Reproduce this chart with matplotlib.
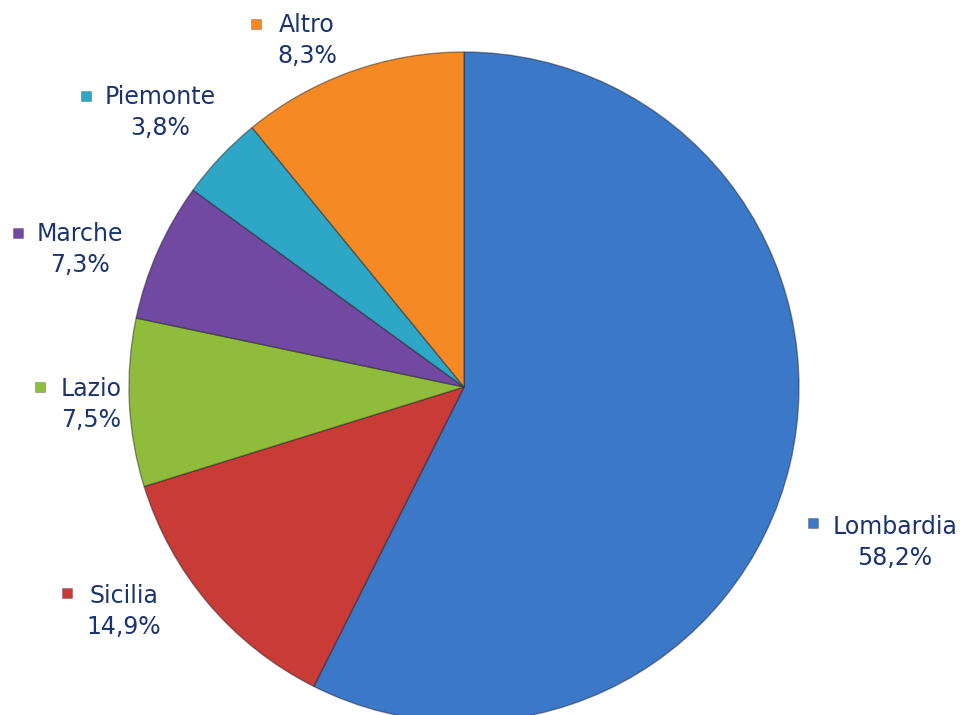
import matplotlib
matplotlib.use("Agg")
import matplotlib.pyplot as plt

# Data
regions = ["Lombardia", "Sicilia", "Lazio", "Marche", "Piemonte", "Altro"]
label_pcts = ["58,2%", "14,9%", "7,5%", "7,3%", "3,8%", "8,3%"]
# slice sizes as drawn in the picture (angles measured)
slice_shares = [57.4, 12.8, 8.1, 6.7, 4.1, 10.9]
colors = ["#3b78c8", "#c83b36", "#8fbc3b", "#7249a1", "#2ea6c6", "#f58a24"]

W, H = 960, 715
fig = plt.figure(figsize=(W / 100, H / 100), dpi=100)
ax = fig.add_axes([0, 0, 1, 1])

cx, cy, r = 464, H - 387, 335
wedges, _ = ax.pie(slice_shares, colors=colors, startangle=90, counterclock=False,
                   center=(cx, cy), radius=r, frame=True,
                   wedgeprops=dict(edgecolor=(0.1, 0.1, 0.15, 0.45), linewidth=1.0))
ax.set_xlim(0, W)
ax.set_ylim(0, H)
ax.set_aspect("equal")
ax.axis("off")

# label layout (image pixel coords): marker position, name centre x, name y
label_pos = {
    "Altro": ((256, 24), 307, 25),
    "Piemonte": ((86, 96), 160, 97),
    "Marche": ((18, 233), 80, 234),
    "Lazio": ((40, 387), 91, 389),
    "Sicilia": ((67, 593), 124, 596),
    "Lombardia": ((813, 523), 895, 527),
}
text_color = "#1c3370"
for name, pct, col in zip(regions, label_pcts, colors):
    (mx, my), tx, ty = label_pos[name]
    ax.scatter([mx], [H - my], marker="s", s=55, color=col,
               edgecolors=(0, 0, 0, 0.25), linewidths=0.6, zorder=5)
    ax.text(tx, H - ty, name, ha="center", va="center", fontsize=17,
            color=text_color, family="DejaVu Sans")
    ax.text(tx, H - ty - 31, pct, ha="center", va="center", fontsize=17,
            color=text_color, family="DejaVu Sans")

fig.savefig("out.png", dpi=100, facecolor="white")
